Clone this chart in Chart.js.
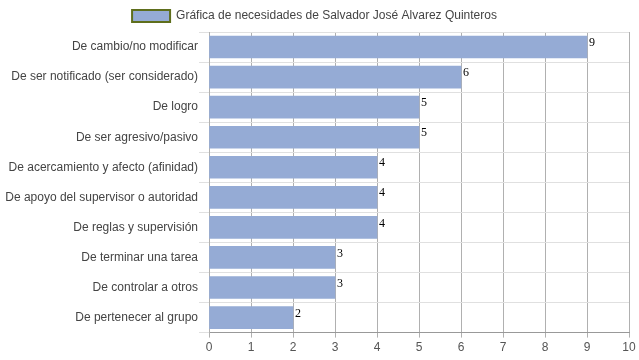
<!DOCTYPE html>
<html><head><meta charset="utf-8">
<script src="https://cdn.jsdelivr.net/npm/chart.js@4"></script>
<style>html,body{margin:0;padding:0;background:#fff}#wrap{width:639px;height:360px}</style>
</head><body><div id="wrap"><canvas id="c" width="639" height="360"></canvas></div>
<script>
const categories = ["De cambio/no modificar","De ser notificado (ser considerado)","De logro","De ser agresivo/pasivo","De acercamiento y afecto (afinidad)","De apoyo del supervisor o autoridad","De reglas y supervisión","De terminar una tarea","De controlar a otros","De pertenecer al grupo"];
const values = [9,6,5,5,4,4,4,3,3,2];
const seriesName = "Gráfica de necesidades de Salvador José Alvarez Quinteros";
const xTicks = [0,1,2,3,4,5,6,7,8,9,10];

const valueLabels = {
  id:'valueLabels',
  afterDatasetsDraw(chart){
    const ctx = chart.ctx;
    const meta = chart.getDatasetMeta(0);
    ctx.save();
    ctx.font = '12px "Liberation Serif", "Times New Roman", serif';
    ctx.fillStyle = '#000';
    ctx.textAlign = 'left';
    ctx.textBaseline = 'top';
    meta.data.forEach((bar,i)=>{
      const top = bar.y - bar.height/2;
      ctx.fillText(String(values[i]), bar.x + 2, top + 1);
    });
    ctx.restore();
  }
};

new Chart(document.getElementById('c'), {
  type:'bar',
  data:{labels:categories, datasets:[{label:seriesName, data:values, backgroundColor:'#95abd5', borderWidth:0, barThickness:22}]},
  options:{
    indexAxis:'y', responsive:false, animation:false,
    layout:{padding:{left:0,right:10,top:1,bottom:2}},
    plugins:{
      tooltip:{enabled:false},
      legend:{position:'top', labels:{
        boxWidth:38, boxHeight:12, padding:9, color:'#444',
        font:{family:'"Liberation Sans", Arial, sans-serif', size:12},
        generateLabels(chart){
          return [{text:seriesName, fillStyle:'#95abd5', strokeStyle:'#5e6e1c', lineWidth:2, datasetIndex:0, hidden:false, fontColor:'#444'}];
        }
      }}
    },
    scales:{
      x:{min:0,max:10, afterBuildTicks(s){ s.ticks = xTicks.map(v=>({value:v})); },
        grid:{color:'#b0b0b0', tickLength:5, drawTicks:true},
        border:{color:'#999'},
        ticks:{color:'#555', font:{family:'"Liberation Sans", Arial, sans-serif', size:12}, padding:3}
      },
      y:{grid:{color:'#e0e0e0', offset:true, tickLength:10},
        border:{color:'#b0b0b0'},
        afterFit(s){ s.width = 209; },
        ticks:{color:'#444', padding:1, font:{family:'"Liberation Sans", Arial, sans-serif', size:12}}
      }
    }
  },
  plugins:[valueLabels]
});
</script></body></html>
